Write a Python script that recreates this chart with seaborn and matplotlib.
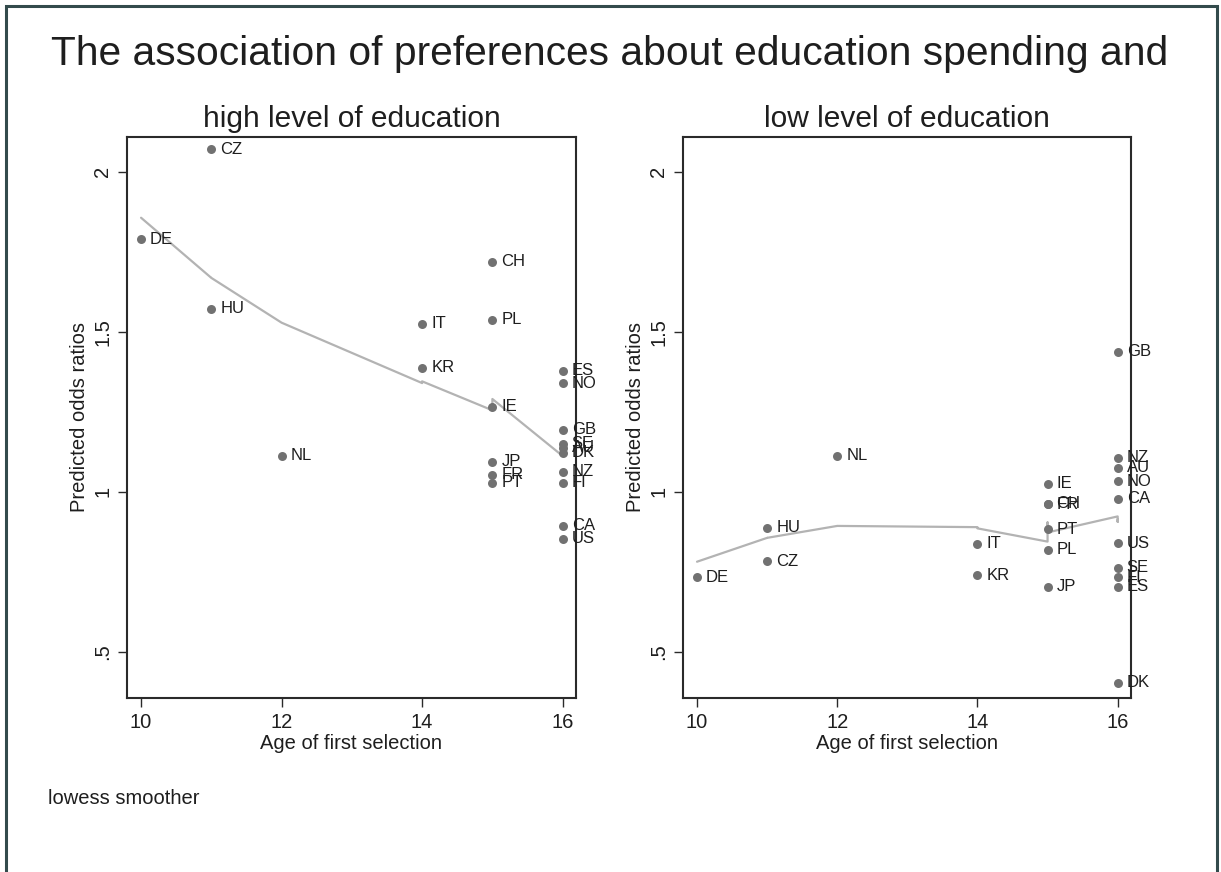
import numpy as np
import pandas as pd
import matplotlib
matplotlib.use("Agg")
import matplotlib.pyplot as plt
from matplotlib.patches import Rectangle
import seaborn as sns

# Age of first selection (tracking age) per country
countries = ["DE", "CZ", "HU", "NL", "IT", "KR",
             "CH", "PL", "IE", "JP", "FR", "PT",
             "US", "ES", "FI", "NO", "GB", "AU", "DK", "NZ", "CA", "SE"]
age_first_selection = [10, 11, 11, 12, 14, 14,
                       15, 15, 15, 15, 15, 15,
                       16, 16, 16, 16, 16, 16, 16, 16, 16, 16]

# Predicted odds ratios, respondents with a high level of education
odds_high = [1.790, 2.070, 1.572, 1.113, 1.525, 1.388,
             1.719, 1.538, 1.266, 1.094, 1.053, 1.028,
             0.853, 1.378, 1.028, 1.340, 1.194, 1.138, 1.122, 1.063, 0.894, 1.150]

# Predicted odds ratios, respondents with a low level of education
odds_low = [0.734, 0.784, 0.888, 1.113, 0.838, 0.740,
            0.963, 0.820, 1.025, 0.703, 0.962, 0.884,
            0.840, 0.703, 0.734, 1.034, 1.438, 1.075, 0.403, 1.106, 0.978, 0.763]

panel_titles = ["high level of education", "low level of education"]
y_ticks = [0.5, 1.0, 1.5, 2.0]
y_ticklabels = [".5", "1", "1.5", "2"]
x_ticks = [10, 12, 14, 16]


def running_line_lowess(x, y, bwidth=0.8):
    """Locally weighted running-line smoother (tricube weights, rank neighbourhoods)."""
    x = np.asarray(x, float)
    y = np.asarray(y, float)
    order = np.argsort(x, kind="mergesort")
    xs, ys = x[order], y[order]
    n = len(xs)
    k = int(np.floor((n * bwidth - 0.5) / 2))
    fitted = np.empty(n)
    for i in range(n):
        lo, hi = max(0, i - k), min(n - 1, i + k)
        xj, yj = xs[lo:hi + 1], ys[lo:hi + 1]
        delta = 1.0001 * max(xs[hi] - xs[i], xs[i] - xs[lo])
        if delta > 0:
            w = (1 - (np.abs(xj - xs[i]) / delta) ** 3) ** 3
        else:
            w = np.ones_like(xj)
        sw = w.sum()
        xm, ym = (w * xj).sum() / sw, (w * yj).sum() / sw
        sxx = (w * (xj - xm) ** 2).sum()
        slope = (w * (xj - xm) * (yj - ym)).sum() / sxx if sxx > 1e-12 else 0.0
        fitted[i] = ym + slope * (xs[i] - xm)
    return xs, fitted


sns.set_theme(style="white")
plt.rcParams["font.family"] = ["Liberation Sans", "DejaVu Sans"]

W, H = 1221, 872
fig = plt.figure(figsize=(W / 100, H / 100), dpi=100)
fig.patch.set_facecolor("white")

ax_boxes = [(127, 576), (683, 1131)]
top_px, bottom_px = 137, 698

dot_color = "#717171"
line_color = "#b3b3b3"
ink = "#1e1e1e"
spine_color = "#2a2a2a"

for (left_px, right_px), title, odds in zip(ax_boxes, panel_titles, [odds_high, odds_low]):
    ax = fig.add_axes([left_px / W, 1 - bottom_px / H,
                       (right_px - left_px) / W, (bottom_px - top_px) / H])
    df = pd.DataFrame({"country": countries, "age": age_first_selection, "odds": odds})

    xs, fit = running_line_lowess(df["age"], df["odds"])
    sns.lineplot(x=xs, y=fit, ax=ax, estimator=None, sort=False,
                 color=line_color, linewidth=1.6, zorder=2)
    sns.scatterplot(data=df, x="age", y="odds", ax=ax, color=dot_color,
                    s=42, linewidth=0, zorder=3)
    for c, a, o in zip(df["country"], df["age"], df["odds"]):
        ax.annotate(c, (a, o), xytext=(6.5, 0), textcoords="offset points",
                    ha="left", va="center", fontsize=12, color=ink, zorder=4)

    ax.set_xlim(9.80, 16.19)
    ax.set_ylim(0.356, 2.109)
    ax.set_xticks(x_ticks)
    ax.set_xticklabels([str(t) for t in x_ticks])
    ax.set_yticks(y_ticks)
    ax.set_yticklabels(y_ticklabels, rotation=90, va="center")
    ax.tick_params(axis="both", which="both", direction="out", length=6.5,
                   width=1.0, color=spine_color, labelsize=14.5, labelcolor=ink,
                   bottom=True, left=True, top=False, right=False, pad=4)
    ax.set_xlabel("Age of first selection", fontsize=14.5, color=ink, labelpad=2)
    ax.set_ylabel("Predicted odds ratios", fontsize=14.5, color=ink, labelpad=3)
    ax.set_title(title, fontsize=21.5, color=ink, pad=7)
    for sp in ax.spines.values():
        sp.set_visible(True)
        sp.set_color(spine_color)
        sp.set_linewidth(1.5)
    ax.grid(False)
    ax.set_facecolor("white")

fig.text(0.4995, 1 - 65 / H, "The association of preferences about education spending and",
         ha="center", va="baseline", fontsize=29.3, color=ink)
fig.text(48 / W, 1 - 798 / H, "lowess smoother", ha="left", va="center",
         fontsize=14.5, color=ink)

# outer frame of the graph region
fig.patches.append(Rectangle((6 / W, -0.02), (1217 - 6) / W, 1 - 6 / H + 0.02,
                             transform=fig.transFigure, fill=False,
                             edgecolor="#334b4c", linewidth=2.2, zorder=10))

fig.savefig("out.png", dpi=100, facecolor="white")
